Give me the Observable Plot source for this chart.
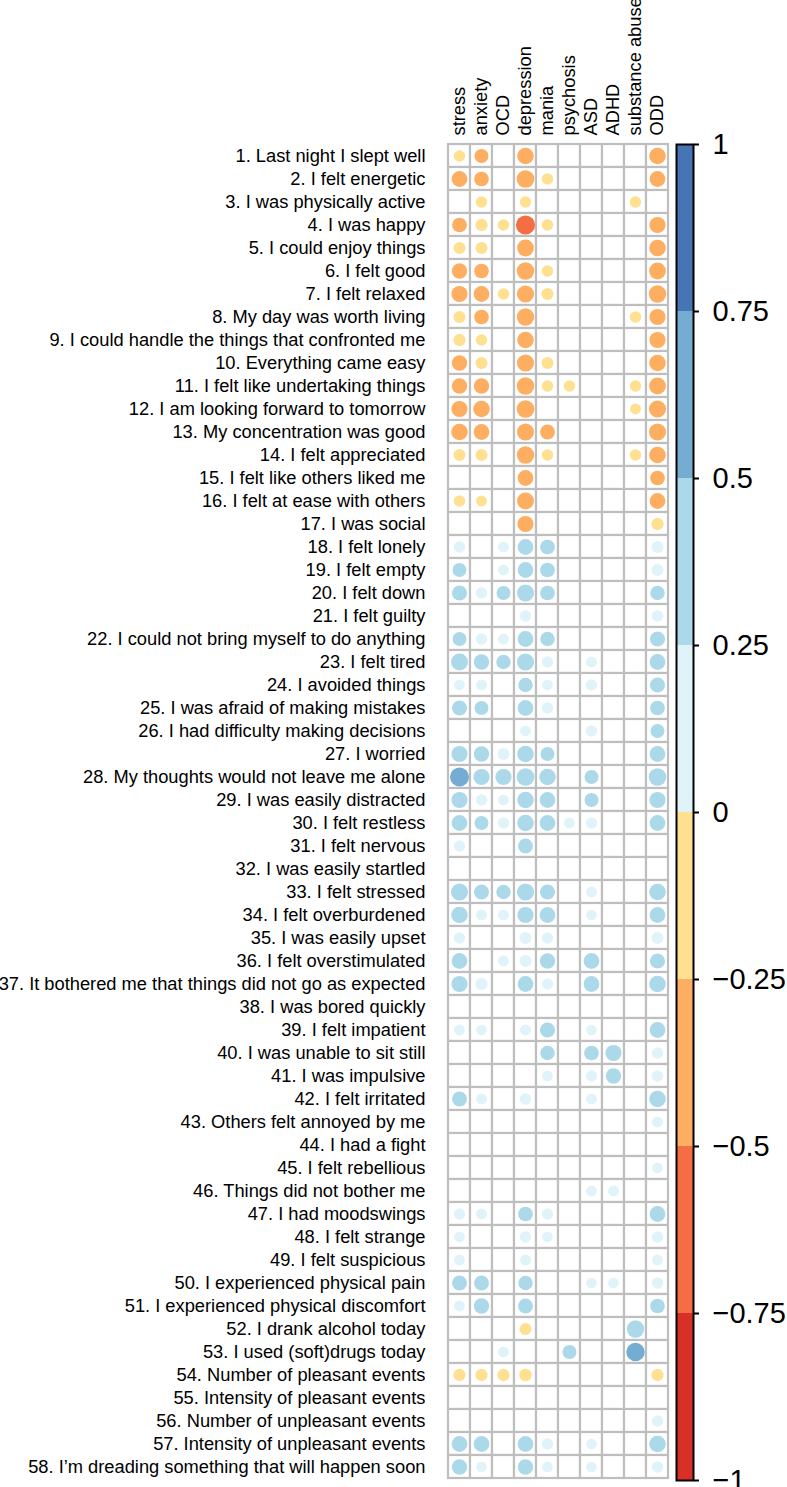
<!DOCTYPE html>
<html>
<head>
<meta charset="utf-8">
<script src="https://cdn.jsdelivr.net/npm/d3@7"></script>
<script src="https://cdn.jsdelivr.net/npm/@observablehq/plot@0.6"></script>
<style>
  html, body { margin: 0; padding: 0; background: #fff; }
  #wrap { position: relative; width: 787px; height: 1487px; overflow: hidden; }
  #wrap svg { position: absolute; left: 0; top: 0; }
</style>
</head>
<body>
<div id="wrap"></div>
<script>
const columns = ["stress","anxiety","OCD","depression","mania","psychosis","ASD","ADHD","substance abuse","ODD"];
const items = [
  "1. Last night I slept well","2. I felt energetic","3. I was physically active","4. I was happy",
  "5. I could enjoy things","6. I felt good","7. I felt relaxed","8. My day was worth living",
  "9. I could handle the things that confronted me","10. Everything came easy","11. I felt like undertaking things",
  "12. I am looking forward to tomorrow","13. My concentration was good","14. I felt appreciated",
  "15. I felt like others liked me","16. I felt at ease with others","17. I was social","18. I felt lonely",
  "19. I felt empty","20. I felt down","21. I felt guilty","22. I could not bring myself to do anything",
  "23. I felt tired","24. I avoided things","25. I was afraid of making mistakes","26. I had difficulty making decisions",
  "27. I worried","28. My thoughts would not leave me alone","29. I was easily distracted","30. I felt restless",
  "31. I felt nervous","32. I was easily startled","33. I felt stressed","34. I felt overburdened",
  "35. I was easily upset","36. I felt overstimulated","37. It bothered me that things did not go as expected",
  "38. I was bored quickly","39. I felt impatient","40. I was unable to sit still","41. I was impulsive",
  "42. I felt irritated","43. Others felt annoyed by me","44. I had a fight","45. I felt rebellious",
  "46. Things did not bother me","47. I had moodswings","48. I felt strange","49. I felt suspicious",
  "50. I experienced physical pain","51. I experienced physical discomfort","52. I drank alcohol today",
  "53. I used (soft)drugs today","54. Number of pleasant events","55. Intensity of pleasant events",
  "56. Number of unpleasant events","57. Intensity of unpleasant events","58. I\u2019m dreading something that will happen soon"
];

// correlation per column (0 = not shown)
const stress = [-.2,-.38,0,-.33,-.22,-.36,-.4,-.22,-.23,-.36, -.36,-.4,-.42,-.22,0,-.2,0,.2,.3,.35, 0,.3,.44,.18,.35,0,.4,.55,.4,.38, .2,0,.45,.42,.2,.38,.4,0,.18,0, 0,.34,0,0,0,0,.2,.18,.18,.34, .18,0,0,-.23,0,0,.38,.36];
const anxiety = [-.3,-.33,-.2,-.23,-.22,-.33,-.38,-.33,-.2,-.22, -.36,-.42,-.38,-.22,0,-.18,0,0,0,.2, 0,.2,.36,.18,.3,0,.36,.4,.2,.3, 0,0,.35,.18,0,0,.22,0,.17,0, 0,.18,0,0,0,0,.18,0,0,.34, .36,0,0,-.23,0,0,.38,.17];
const ocd = [0,0,0,-.2,0,0,-.2,0,0,0, 0,0,0,0,0,0,0,.18,.18,.3, 0,.18,.32,0,0,0,.22,.4,.18,.2, 0,0,.32,.18,0,.18,0,0,0,0, 0,0,0,0,0,0,0,0,0,0, 0,0,.18,-.23,0,0,0,0];
const depression = [-.42,-.48,-.2,-.56,-.43,-.47,-.45,-.46,-.42,-.45, -.47,-.48,-.45,-.46,-.38,-.44,-.4,.38,.38,.45, .2,.38,.45,.32,.38,.18,.42,.48,.42,.42, .34,0,.45,.4,.22,.22,.38,0,.18,0, 0,.2,0,0,0,0,.33,.2,.18,.32, .34,-.22,0,-.24,0,0,.38,.36];
const mania = [0,-.2,0,-.2,0,-.2,-.22,0,0,-.22, -.2,0,-.34,-.2,0,0,0,.33,.33,.33, 0,.32,.2,.18,.2,0,.3,.42,.38,.38, 0,0,.35,.38,.2,.36,.2,0,.35,.32, .18,0,0,0,0,0,.2,.18,0,0, 0,0,0,0,0,0,.2,.18];
const psychosis = [0,0,0,0,0,0,0,0,0,0, -.2,0,0,0,0,0,0,0,0,0, 0,0,0,0,0,0,0,0,0,.18, 0,0,0,0,0,0,0,0,0,0, 0,0,0,0,0,0,0,0,0,0, 0,0,.3,0,0,0,0,0];
const asd = [0,0,0,0,0,0,0,0,0,0, 0,0,0,0,0,0,0,0,0,0, 0,0,.18,.2,0,.2,0,.3,.3,.2, 0,0,.18,.17,0,.38,.38,0,.17,.33, .2,.18,0,0,0,.18,0,0,0,.17, 0,0,0,0,0,0,.17,.17];
const adhd = [0,0,0,0,0,0,0,0,0,0, 0,0,0,0,0,0,0,0,0,0, 0,0,0,0,0,0,0,0,0,0, 0,0,0,0,0,0,0,0,0,.4, .36,0,0,0,0,.18,0,0,0,.17, 0,0,0,0,0,0,0,0];
const substanceAbuse = [0,0,-.2,0,0,0,0,-.2,0,0, -.2,-.18,0,-.2,0,0,0,0,0,0, 0,0,0,0,0,0,0,0,0,0, 0,0,0,0,0,0,0,0,0,0, 0,0,0,0,0,0,0,0,0,0, 0,.46,.52,0,0,0,0,0];
const odd = [-.42,-.38,0,-.4,-.42,-.43,-.46,-.4,-.4,-.42, -.43,-.45,-.45,-.42,-.33,-.38,-.23,.22,.22,.32, .2,.35,.38,.35,.33,.3,.38,.47,.4,.38, 0,0,.42,.38,.22,.35,.42,0,.38,.2, .2,.42,.18,0,.18,0,.38,.2,.18,.2, .33,0,0,-.23,0,.2,.42,.2];

const legendTicks = [1, 0.75, 0.5, 0.25, 0, -0.25, -0.5, -0.75, -1];
const legendTickLabels = ["1", "0.75", "0.5", "0.25", "0", "\u22120.25", "\u22120.5", "\u22120.75", "\u22121"];
const binEdges = [-1, -0.75, -0.5, -0.25, 0, 0.25, 0.5, 0.75, 1];
const palette = ["#d73027","#f46d43","#fdae61","#fee090","#e0f3f8","#abd9e9","#74add1","#4575b4"];

const series = [stress, anxiety, ocd, depression, mania, psychosis, asd, adhd, substanceAbuse, odd];
const cells = [];
items.forEach((it, i) => columns.forEach((c, j) => cells.push({item: it, col: c, v: series[j][i]})));
const shown = cells.filter(d => d.v !== 0);

const colorScale = {type: "threshold", domain: binEdges.slice(1, -1), range: palette};
const font = "'Liberation Sans', Arial, Helvetica, sans-serif";
const labelSize = 18.3;

const main = Plot.plot({
  width: 787, height: 1487,
  marginLeft: 443, marginRight: 115, marginTop: 143, marginBottom: 8,
  style: {fontFamily: font, fontSize: labelSize + "px", color: "#000", background: "transparent"},
  x: {domain: columns, padding: 0, axis: null},
  y: {domain: items, padding: 0, axis: null},
  r: {type: "sqrt", domain: [0, 1], range: [0, 12.8]},
  color: colorScale,
  marks: [
    Plot.cell(cells, {x: "col", y: "item", fill: "white", stroke: "#bebebe", strokeWidth: 2.2, inset: 0}),
    Plot.dot(shown, {x: "col", y: "item", r: d => Math.abs(d.v), fill: "v", stroke: "none"}),
    Plot.axisX({anchor: "top", tickRotate: -90, tickSize: 0, tickPadding: 8, label: null, fontSize: labelSize}),
    Plot.axisY({anchor: "left", tickSize: 0, tickPadding: 18, label: null, fontSize: labelSize})
  ]
});

const bins = binEdges.slice(0, -1).map((lo, i) => ({lo, hi: binEdges[i + 1]}));
const legend = Plot.plot({
  width: 787, height: 1487,
  marginLeft: 676, marginRight: 94, marginTop: 144, marginBottom: 7,
  style: {fontFamily: font, background: "transparent", color: "#000"},
  x: {domain: [0, 1], axis: null},
  y: {domain: [-1, 1], axis: null},
  color: colorScale,
  marks: [
    Plot.rect(bins, {x1: 0, x2: 1, y1: "lo", y2: "hi", fill: d => (d.lo + d.hi) / 2}),
    Plot.frame({stroke: "#000", strokeWidth: 2}),
    Plot.axisY({anchor: "right", ticks: legendTicks, tickSize: 5, tickPadding: 14, strokeWidth: 2,
      tickFormat: d => legendTickLabels[legendTicks.indexOf(d)], fontSize: 29, label: null})
  ]
});

document.getElementById("wrap").append(main, legend);
</script>
</body>
</html>
